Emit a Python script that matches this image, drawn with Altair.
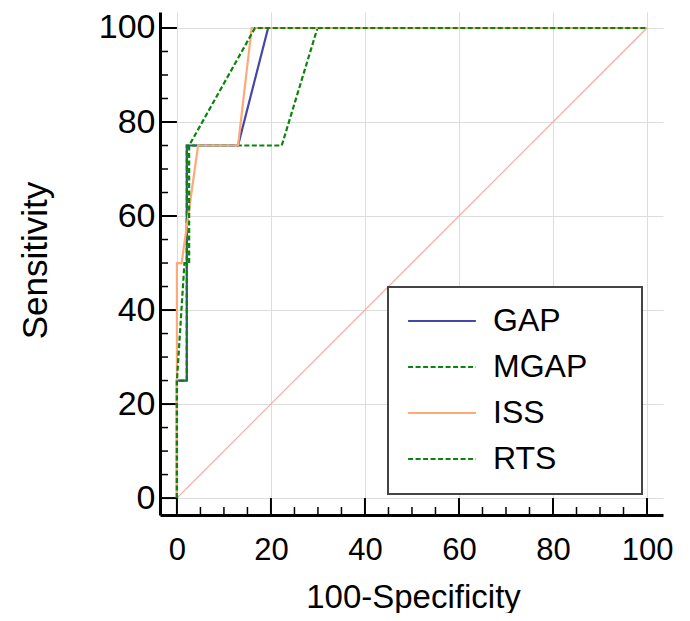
import altair as alt
import pandas as pd

# ---------------- data ----------------
series_names = ["GAP", "MGAP", "ISS", "RTS"]

gap_x = [0, 0, 2.1, 2.1, 13.0, 19.4, 100]
gap_y = [0, 25, 25, 75, 75, 100, 100]

mgap_x = [0, 0, 2.1, 2.1, 22.3, 29.9, 100]
mgap_y = [0, 25, 25, 75, 75, 100, 100]

iss_x = [0, 0, 1.0, 4.5, 13.0, 15.9, 100]
iss_y = [0, 50, 50, 75, 75, 100, 100]

rts_x = [0, 0, 1.6, 2.6, 2.6, 16.6, 100]
rts_y = [0, 25, 50, 50, 75, 100, 100]

diag_x = [0, 100]
diag_y = [0, 100]

major_ticks = [0, 20, 40, 60, 80, 100]
minor_ticks = [5, 10, 15, 25, 30, 35, 45, 50, 55, 65, 70, 75, 85, 90, 95]

axis_min = -3.6
axis_max = 103.4
minor_end = -1.9

series_colors = ["#4646a8", "#0a840a", "#ffa97a", "#0a840a"]
series_dash = [[1, 0], [5, 2.5], [1, 0], [5, 2.5]]

# ---------------- tables ----------------
rows = []
for name, xs, ys in zip(series_names, [gap_x, mgap_x, iss_x, rts_x], [gap_y, mgap_y, iss_y, rts_y]):
    for i, (xv, yv) in enumerate(zip(xs, ys)):
        rows.append({"series": name, "x": xv, "y": yv, "i": i})
curves = pd.DataFrame(rows)
diag = pd.DataFrame({"x": diag_x, "y": diag_y, "i": list(range(len(diag_x)))})
major_df = pd.DataFrame({"v": major_ticks})
minor_df = pd.DataFrame({"v": minor_ticks})

FONT = "Liberation Sans"

xscale = alt.Scale(domain=[axis_min, axis_max], nice=False, zero=False)
yscale = alt.Scale(domain=[axis_min, axis_max], nice=False, zero=False)

x_axis = alt.Axis(
    values=major_ticks, title="100-Specificity", grid=True, gridColor="#dddddd", gridWidth=1,
    ticks=False, tickSize=0, domainColor="black", domainWidth=3,
    labelFont=FONT, labelFontSize=31, labelColor="black", labelPadding=20, labelFlush=False,
    titleFont=FONT, titleFontSize=33, titleFontWeight="normal", titleColor="black",
    titleX=253, titleY=92, titleBaseline="alphabetic", titleAlign="center",
)
y_axis = alt.Axis(
    values=major_ticks, title="Sensitivity", grid=True, gridColor="#dddddd", gridWidth=1,
    ticks=False, tickSize=0, domainColor="black", domainWidth=3,
    labelFont=FONT, labelFontSize=34, labelColor="black", labelPadding=5, labelFlush=False,
    titleFont=FONT, titleFontSize=35, titleFontWeight="normal", titleColor="black",
    titleX=-125, titleY=248, titleBaseline="middle", titleAlign="center", titleAngle=-90,
)

legend = alt.Legend(
    title=None, orient="none", legendX=228, legendY=275,
    strokeColor="#444444", fillColor="white", padding=19,
    symbolType="stroke", symbolSize=4600, symbolStrokeWidth=2,
    labelFont=FONT, labelFontSize=32, labelColor="black", labelOffset=16,
    rowPadding=14, clipHeight=30, labelLimit=300,
    labelExpr="datum.label + '\u00a0\u00a0\u00a0\u00a0\u200b'",
)

color_scale = alt.Scale(domain=series_names, range=series_colors)
dash_scale = alt.Scale(domain=series_names, range=series_dash)

diag_layer = alt.Chart(diag).mark_line(color="#f0a8a8", strokeWidth=1.2).encode(
    x=alt.X("x:Q", scale=xscale, axis=x_axis),
    y=alt.Y("y:Q", scale=yscale, axis=y_axis),
    order="i:Q",
)

curve_layer = alt.Chart(curves).mark_line(strokeWidth=2.2).encode(
    x=alt.X("x:Q", scale=xscale, axis=x_axis),
    y=alt.Y("y:Q", scale=yscale, axis=y_axis),
    color=alt.Color("series:N", scale=color_scale, legend=legend, sort=series_names),
    strokeDash=alt.StrokeDash("series:N", scale=dash_scale, legend=legend, sort=series_names),
    order="i:Q",
    detail="series:N",
)

x_major = alt.Chart(major_df).mark_rule(color="black", strokeWidth=2).encode(
    x=alt.X("v:Q", scale=xscale, axis=x_axis),
    y=alt.YDatum(axis_min, scale=yscale, axis=y_axis),
    y2=alt.Y2Datum(0),
)
x_minor = alt.Chart(minor_df).mark_rule(color="black", strokeWidth=1.5).encode(
    x=alt.X("v:Q", scale=xscale, axis=x_axis),
    y=alt.YDatum(axis_min, scale=yscale, axis=y_axis),
    y2=alt.Y2Datum(minor_end),
)
y_major = alt.Chart(major_df).mark_rule(color="black", strokeWidth=2).encode(
    y=alt.Y("v:Q", scale=yscale, axis=y_axis),
    x=alt.XDatum(axis_min, scale=xscale, axis=x_axis),
    x2=alt.X2Datum(0),
)
y_minor = alt.Chart(minor_df).mark_rule(color="black", strokeWidth=1.5).encode(
    y=alt.Y("v:Q", scale=yscale, axis=y_axis),
    x=alt.XDatum(axis_min, scale=xscale, axis=x_axis),
    x2=alt.X2Datum(minor_end),
)

chart = alt.layer(diag_layer, x_major, x_minor, y_major, y_minor, curve_layer).properties(
    width=503, height=503,
    padding={"left": 152, "top": 4, "right": 19, "bottom": 98},
    autosize=alt.AutoSizeParams(type="none"),
).configure_view(stroke="transparent").configure_legend(strokeWidth=2)

chart.save("out.html", embed_options={"renderer": "svg", "actions": False})
